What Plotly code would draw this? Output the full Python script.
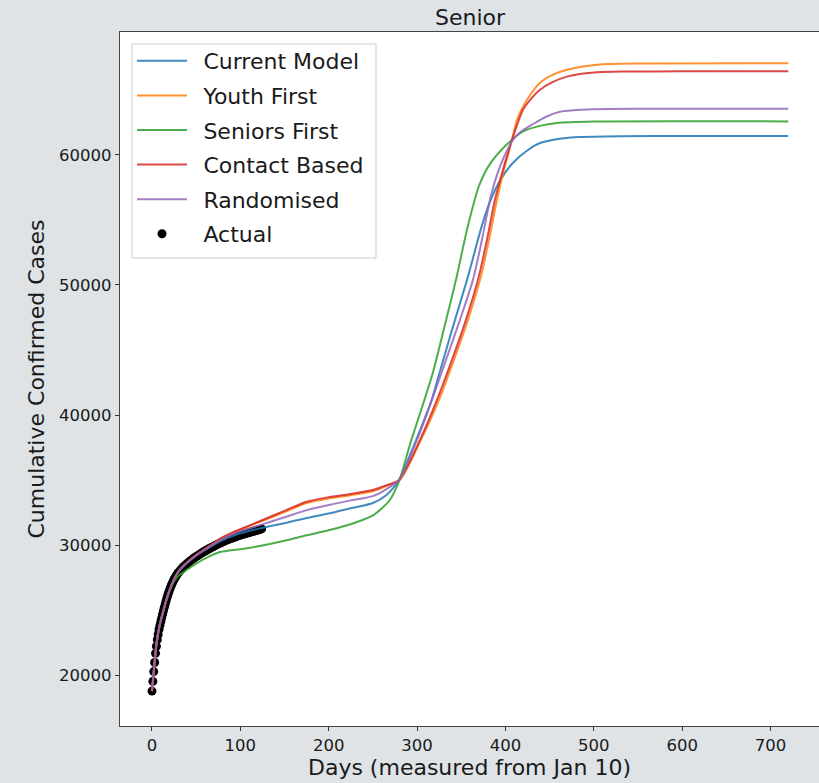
import plotly.graph_objects as go

# ---------------- data ----------------
actual_days = list(range(0, 31)) + list(range(32, 126, 2))
actual_cases = [18800, 19550, 20300, 21000, 21700, 22250, 22750, 23150, 23550, 23850,
                24150, 24430, 24700, 24980, 25250, 25500, 25750, 25980, 26200, 26400,
                26600, 26780, 26950, 27100, 27250, 27380, 27500, 27610, 27720, 27820,
                27920,
                28080, 28230, 28370, 28500,
                28620, 28730, 28840, 28940, 29040, 29130, 29220, 29310, 29400, 29480,
                29560, 29640, 29720, 29790, 29860, 29930, 30000, 30070, 30140, 30200,
                30260, 30320, 30380, 30440, 30490, 30540, 30590, 30640, 30690, 30740,
                30780, 30820, 30860, 30900, 30940, 30980, 31020, 31060, 31100, 31140,
                31180, 31220, 31260]

current_days = [0, 2, 5, 9, 13, 18, 24, 30, 39, 50, 62, 77, 95, 122, 150, 175, 200, 225, 250, 265,
                279.5, 297.6, 316.5, 322.2, 339.5, 356.5, 373.1, 382.5, 393.8, 408.5, 424.3,
                439.1, 461.7, 484.3, 529.6, 600, 720]
current_vals = [18800, 20300, 22400, 23950, 25000, 26200, 27250, 27970, 28600, 29200, 29720,
                30300, 30800, 31300, 31700, 32100, 32450, 32850, 33250, 33850,
                35020, 37870, 41170, 42500, 46550, 50390, 54500, 56400, 58000, 59390, 60310,
                60900, 61230, 61360, 61420, 61438, 61440]

youth_days = [0, 2, 5, 9, 13, 18, 24, 30, 39, 50, 62, 77, 95, 122, 150, 175, 200, 225, 250, 265,
              280.6, 304.4, 324.8, 341.7, 357.6, 371.2, 381.4, 390.4, 398.3, 407.4, 413, 419.8,
              428.9, 439.1, 453.8, 469.6, 503.6, 560, 720]
youth_vals = [18800, 20300, 22400, 23950, 25000, 26200, 27250, 28000, 28650, 29250, 29800,
              30480, 31050, 31800, 32550, 33250, 33600, 33850, 34150, 34550,
              35020, 38100, 41170, 44250, 47320, 50390, 53470, 56540, 58850, 61150, 62690, 63690,
              64690, 65530, 66150, 66530, 66920, 67010, 67023]

seniors_days = [0, 2, 5, 9, 13, 18, 24, 30, 39, 50, 62, 77, 100, 122, 150, 175, 200, 232, 250, 269,
                280, 293.1, 307, 318, 331, 344, 357, 370, 382.5, 400.6, 420, 439, 458, 500, 720]
seniors_vals = [18800, 20300, 22400, 23950, 25000, 26100, 27100, 27650, 28100, 28600, 29050,
                29480, 29700, 29950, 30350, 30770, 31150, 31790, 32300, 33460,
                35000, 38000, 40900, 43300, 46800, 50390, 54400, 57600, 59300, 60730, 61790,
                62220, 62440, 62550, 62562]

contact_days = [0, 2, 5, 9, 13, 18, 24, 30, 39, 50, 62, 77, 95, 122, 150, 175, 200, 225, 250, 265,
                279.5, 303.3, 322.5, 339.5, 355.3, 368.9, 379.1, 388.1, 397.2, 407.4, 419.8,
                428.9, 439.1, 453.8, 469.6, 486, 503.6, 530, 600, 720]
contact_vals = [18800, 20300, 22400, 23950, 25000, 26200, 27250, 28000, 28650, 29250, 29800,
                30500, 31100, 31850, 32650, 33350, 33700, 33950, 34250, 34600,
                35020, 38100, 41170, 44250, 47320, 50390, 53470, 56540, 58850, 61150, 63460,
                64300, 65000, 65600, 66000, 66220, 66340, 66395, 66406, 66408]

random_days = [0, 2, 5, 9, 13, 18, 24, 30, 39, 50, 62, 77, 95, 122, 150, 175, 200, 225, 250, 265,
               279.5, 299.9, 316.8, 332.7, 348.5, 363.2, 373.4, 382.5, 390.4, 399.5, 408.5,
               418.7, 430.0, 445.9, 461.7, 499.0, 560, 720]
random_vals = [18800, 20300, 22400, 23950, 25000, 26200, 27250, 27990, 28620, 29230, 29760,
               30380, 30950, 31550, 32150, 32700, 33100, 33450, 33780, 34300,
               35020, 38100, 41170, 44250, 47320, 50390, 53470, 56540, 58460, 60000, 61150,
               61840, 62310, 62920, 63300, 63490, 63530, 63538]

series_names = ["Current Model", "Youth First", "Seniors First", "Contact Based", "Randomised"]
series_days = [current_days, youth_days, seniors_days, contact_days, random_days]
series_vals = [current_vals, youth_vals, seniors_vals, contact_vals, random_vals]
series_colors = ["#1f77b4", "#ff7f0e", "#2ca02c", "#d62728", "#9467bd"]

x_ticks = [0, 100, 200, 300, 400, 500, 600, 700]
y_ticks = [20000, 30000, 40000, 50000, 60000]

# ---------------- figure ----------------
fig = go.Figure()

pad = "\u00a0\u2009"
fig.add_trace(go.Scatter(
    x=actual_days, y=actual_cases, mode="markers", name=pad + "Actual",
    marker=dict(color="black", size=9, line=dict(width=0)),
    legendrank=6, legendgroup="g6"))

for i, (nm, dd, vv, cc) in enumerate(zip(series_names, series_days, series_vals, series_colors)):
    fig.add_trace(go.Scatter(
        x=dd, y=vv, mode="lines", name=pad + nm,
        line=dict(color=cc, width=2, shape="spline", smoothing=0.7),
        opacity=0.85, legendrank=i + 1, legendgroup="g%d" % (i + 1)))

PW, PH = 699, 694  # plot area size in px
txt = "#1a1a1a"
fig.update_layout(
    width=819, height=783,
    margin=dict(l=120, r=0, t=32, b=57, autoexpand=False),
    paper_bgcolor="#dfe3e6", plot_bgcolor="white",
    font=dict(family="DejaVu Sans", color=txt),
    title=dict(text="Senior", x=470 / 819, xref="container", xanchor="center",
               y=1 - 17 / 783, yref="container", yanchor="middle",
               font=dict(size=22, color=txt)),
    showlegend=True,
    legend=dict(x=(132 - 120) / PW, y=1 - 8 / PH, xanchor="left", yanchor="top",
                bgcolor="rgba(0,0,0,0)", borderwidth=0,
                font=dict(size=22, color=txt), tracegroupgap=3, itemwidth=50),
    shapes=[dict(type="rect", xref="paper", yref="paper", layer="above",
                 x0=(132 - 120) / PW, x1=(376 - 120) / PW,
                 y0=1 - (258 - 32) / PH, y1=1 - (44 - 32) / PH,
                 fillcolor="rgba(255,255,255,0.8)", line=dict(color="#cccccc", width=1))],
    xaxis=dict(range=[-36.2, 754.8], tickvals=x_ticks, ticks="outside", ticklen=4,
               tickcolor="#333", tickfont=dict(size=16.5, color=txt), tickformat="d",
               showgrid=False, zeroline=False, showline=True, linecolor="#444",
               linewidth=1.2, mirror=True,
               title=dict(text="Days (measured from Jan 10)", font=dict(size=22, color=txt),
                          standoff=3)),
    yaxis=dict(range=[16120, 69430], tickvals=y_ticks, ticks="outside", ticklen=4,
               tickcolor="#333", tickfont=dict(size=16.5, color=txt), tickformat="d",
               showgrid=False, zeroline=False, showline=True, linecolor="#444",
               linewidth=1.2,
               title=dict(text="Cumulative Confirmed Cases", font=dict(size=22, color=txt),
                          standoff=8)),
)

fig.write_html("out.html", config={"displayModeBar": False},
               post_script="document.body.style.margin='0px';document.body.style.overflow='hidden';")
